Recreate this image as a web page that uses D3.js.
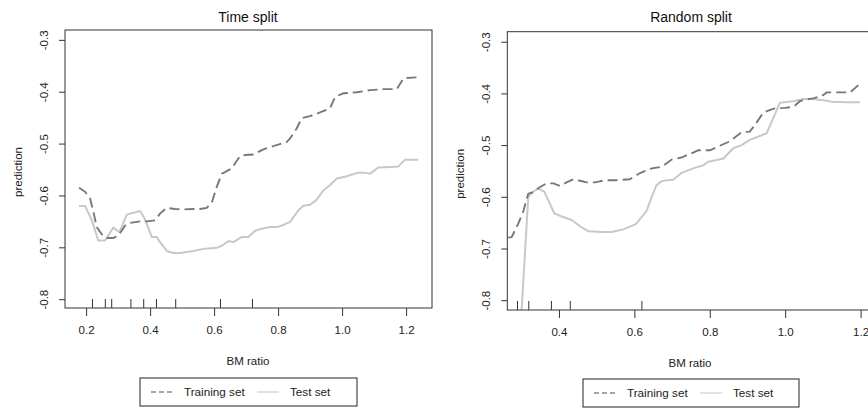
<!DOCTYPE html>
<html>
<head>
<meta charset="utf-8">
<script src="https://cdn.jsdelivr.net/npm/d3@7"></script>
<style>
  body { margin: 0; background: #fff; }
  svg { display: block; font-family: "Liberation Sans", Arial, sans-serif; }
</style>
</head>
<body>
<div id="chart"></div>
<script>
// --- data ---
// Time split panel
const timeTrainX = [0.178, 0.197, 0.2125, 0.223, 0.233, 0.249, 0.265, 0.285, 0.301, 0.322, 0.3375, 0.369, 0.39, 0.416, 0.431, 0.452, 0.478, 0.504, 0.535, 0.556, 0.577, 0.593, 0.608, 0.624, 0.634, 0.655, 0.681, 0.697, 0.723, 0.754, 0.785, 0.827, 0.8375, 0.858, 0.874, 0.9, 0.931, 0.9625, 0.978, 1.004, 1.046, 1.0875, 1.129, 1.171, 1.192, 1.238];
const timeTrainY = [-0.585, -0.593, -0.606, -0.632, -0.661, -0.675, -0.682, -0.682, -0.677, -0.658, -0.653, -0.65, -0.65, -0.648, -0.635, -0.624, -0.626, -0.627, -0.626, -0.626, -0.624, -0.613, -0.584, -0.558, -0.555, -0.548, -0.524, -0.522, -0.521, -0.511, -0.505, -0.497, -0.49, -0.471, -0.451, -0.447, -0.44, -0.432, -0.41, -0.403, -0.401, -0.397, -0.395, -0.395, -0.374, -0.372];
const timeTestX = [0.178, 0.197, 0.218, 0.238, 0.259, 0.285, 0.304, 0.327, 0.369, 0.384, 0.405, 0.421, 0.431, 0.452, 0.473, 0.494, 0.535, 0.567, 0.608, 0.624, 0.645, 0.66, 0.687, 0.707, 0.728, 0.749, 0.775, 0.796, 0.812, 0.8375, 0.863, 0.879, 0.9, 0.919, 0.942, 0.9625, 0.983, 1.009, 1.025, 1.051, 1.072, 1.0875, 1.113, 1.15, 1.176, 1.197, 1.238];
const timeTestY = [-0.6205, -0.6205, -0.648, -0.687, -0.687, -0.662, -0.671, -0.637, -0.63, -0.646, -0.68, -0.68, -0.69, -0.707, -0.711, -0.711, -0.707, -0.703, -0.701, -0.697, -0.688, -0.69, -0.68, -0.68, -0.668, -0.664, -0.661, -0.661, -0.658, -0.651, -0.629, -0.62, -0.618, -0.609, -0.59, -0.58, -0.5675, -0.564, -0.561, -0.556, -0.556, -0.558, -0.546, -0.545, -0.544, -0.531, -0.531];
const timeRug = [0.22, 0.26, 0.28, 0.34, 0.38, 0.42, 0.48, 0.62, 0.72];

// Random split panel
const randTrainX = [0.2655, 0.2745, 0.292, 0.305, 0.3186, 0.332, 0.35, 0.367, 0.385, 0.4027, 0.42, 0.438, 0.456, 0.4735, 0.4955, 0.522, 0.5485, 0.588, 0.615, 0.646, 0.672, 0.699, 0.725, 0.7475, 0.7695, 0.8005, 0.818, 0.849, 0.867, 0.8846, 0.906, 0.92, 0.942, 0.9597, 0.9727, 0.9995, 1.0215, 1.039, 1.057, 1.0746, 1.097, 1.11, 1.1366, 1.172, 1.194];
const randTrainY = [-0.679, -0.678, -0.652, -0.629, -0.594, -0.591, -0.581, -0.574, -0.574, -0.579, -0.572, -0.566, -0.569, -0.572, -0.572, -0.568, -0.568, -0.566, -0.554, -0.545, -0.542, -0.528, -0.524, -0.517, -0.51, -0.51, -0.504, -0.494, -0.485, -0.475, -0.474, -0.461, -0.437, -0.432, -0.429, -0.428, -0.426, -0.415, -0.4115, -0.4096, -0.405, -0.398, -0.398, -0.398, -0.384];
const randTestX = [0.2655, 0.3186, 0.332, 0.345, 0.361, 0.3716, 0.3875, 0.411, 0.434, 0.4557, 0.4777, 0.513, 0.54, 0.5706, 0.604, 0.6326, 0.646, 0.6586, 0.673, 0.6865, 0.703, 0.7255, 0.756, 0.783, 0.796, 0.818, 0.836, 0.862, 0.8846, 0.906, 0.951, 0.986, 1.0215, 1.048, 1.07, 1.101, 1.1233, 1.163, 1.198];
const randTestY = [-1.26, -0.6, -0.59, -0.584, -0.59, -0.6065, -0.632, -0.639, -0.645, -0.657, -0.6665, -0.668, -0.668, -0.663, -0.653, -0.627, -0.6, -0.5775, -0.5697, -0.5678, -0.567, -0.5536, -0.545, -0.539, -0.532, -0.529, -0.526, -0.506, -0.5, -0.49, -0.477, -0.418, -0.415, -0.411, -0.411, -0.413, -0.416, -0.417, -0.417];
const randRug = [0.29, 0.32, 0.38, 0.43, 0.62];

const xTicks = [0.2, 0.4, 0.6, 0.8, 1.0, 1.2];
const yTicks = [-0.3, -0.4, -0.5, -0.6, -0.7, -0.8];
const seriesNames = ["Training set", "Test set"];

const width = 868;
const height = 408;

const trainColor = "#787878";
const testColor = "#c8c8c8";
const axisColor = "#333";

const panels = [
    {
        title: "Time split",
        box: {left: 65, top: 30, right: 432, bottom: 308},
        xDomain: [0.134, 1.281],
        yDomain: [-0.817, -0.281],
        train: timeTrainX.map((x, i) => ({x: x, y: timeTrainY[i]})),
        test: timeTestX.map((x, i) => ({x: x, y: timeTestY[i]})),
        rug: timeRug,
        legend: {left: 140, top: 378, right: 357, bottom: 406}
    },
    {
        title: "Random split",
        box: {left: 507.3, top: 31.7, right: 875.7, bottom: 310},
        xDomain: [0.263, 1.24],
        yDomain: [-0.819, -0.2806],
        train: randTrainX.map((x, i) => ({x: x, y: randTrainY[i]})),
        test: randTestX.map((x, i) => ({x: x, y: randTestY[i]})),
        rug: randRug,
        legend: {left: 583, top: 379, right: 799, bottom: 407}
    }
];

const svg = d3.select("#chart").append("svg")
    .attr("width", width)
    .attr("height", height);

panels.forEach((p, k) => {
    const b = p.box;
    const x = d3.scaleLinear().domain(p.xDomain).range([b.left, b.right]);
    const y = d3.scaleLinear().domain(p.yDomain).range([b.bottom, b.top]);

    const g = svg.append("g").attr("class", "panel");

    // clip to plot region like R does
    const clipId = "clip" + k;
    g.append("clipPath").attr("id", clipId)
        .append("rect")
        .attr("x", b.left).attr("y", b.top)
        .attr("width", b.right - b.left).attr("height", b.bottom - b.top);

    const line = d3.line()
        .x(d => x(d.x))
        .y(d => y(d.y));

    const plot = g.append("g").attr("clip-path", `url(#${clipId})`);

    plot.append("path")
        .attr("d", line(p.test))
        .attr("fill", "none")
        .attr("stroke", testColor)
        .attr("stroke-width", 2)
        .attr("stroke-linejoin", "round");

    plot.append("path")
        .attr("d", line(p.train))
        .attr("fill", "none")
        .attr("stroke", trainColor)
        .attr("stroke-width", 1.9)
        .attr("stroke-dasharray", "10,5");

    // rug (deciles)
    plot.selectAll("line.rug")
        .data(p.rug)
        .enter().append("line")
        .attr("class", "rug")
        .attr("x1", d => x(d)).attr("x2", d => x(d))
        .attr("y1", b.bottom).attr("y2", b.bottom - 9)
        .attr("stroke", axisColor)
        .attr("stroke-width", 1);

    // box
    g.append("rect")
        .attr("x", b.left).attr("y", b.top)
        .attr("width", b.right - b.left).attr("height", b.bottom - b.top)
        .attr("fill", "none")
        .attr("stroke", axisColor)
        .attr("stroke-width", 1);

    // x axis
    const xAxis = d3.axisBottom(x)
        .tickValues(xTicks.filter(v => v >= p.xDomain[0] && v <= p.xDomain[1]))
        .tickSize(8)
        .tickPadding(10)
        .tickFormat(d => d.toFixed(1));

    const gx = g.append("g")
        .attr("transform", `translate(0, ${b.bottom})`)
        .call(xAxis);
    gx.select(".domain").remove();
    gx.selectAll(".tick line").attr("stroke", axisColor);
    gx.selectAll(".tick text")
        .attr("fill", "#222")
        .style("font-size", "11.5px")
        .attr("font-family", null);

    // y axis
    const yAxis = d3.axisLeft(y)
        .tickValues(yTicks)
        .tickSize(6)
        .tickFormat(d => d.toFixed(1));

    const gy = g.append("g")
        .attr("transform", `translate(${b.left}, 0)`)
        .call(yAxis);
    gy.select(".domain").remove();
    gy.selectAll(".tick line").attr("stroke", axisColor);
    gy.selectAll(".tick text")
        .attr("transform", "rotate(-90)")
        .attr("x", 0)
        .attr("y", -21)
        .attr("dy", "0.35em")
        .attr("text-anchor", "middle")
        .attr("fill", "#222")
        .style("font-size", "11.5px")
        .attr("font-family", null);

    // titles
    g.append("text")
        .attr("x", k === 0 ? 248 : 691)
        .attr("y", 22)
        .attr("text-anchor", "middle")
        .style("font-size", "14px")
        .attr("fill", "#111")
        .text(p.title);

    g.append("text")
        .attr("x", k === 0 ? 248 : 690)
        .attr("y", b.bottom + 57)
        .attr("text-anchor", "middle")
        .style("font-size", "11.5px")
        .attr("fill", "#222")
        .text("BM ratio");

    g.append("text")
        .attr("transform", `translate(${b.left - 47}, ${(b.top + b.bottom) / 2 + 3}) rotate(-90)`)
        .attr("text-anchor", "middle")
        .attr("dy", "0.35em")
        .style("font-size", "11.5px")
        .attr("fill", "#222")
        .text("prediction");

    // legend
    const L = p.legend;
    const lg = g.append("g");
    lg.append("rect")
        .attr("x", L.left).attr("y", L.top)
        .attr("width", L.right - L.left).attr("height", L.bottom - L.top)
        .attr("fill", "#fff")
        .attr("stroke", "#222")
        .attr("stroke-width", 1);

    const ly = (L.top + L.bottom) / 2;
    const items = [
        {name: seriesNames[0], color: "#8a8a8a", dash: "5,3", x0: L.left + 11},
        {name: seriesNames[1], color: "#d2d2d2", dash: null, x0: L.left + 117}
    ];
    items.forEach(it => {
        lg.append("line")
            .attr("x1", it.x0).attr("x2", it.x0 + 22)
            .attr("y1", ly).attr("y2", ly)
            .attr("stroke", it.color)
            .attr("stroke-width", 1.3)
            .attr("stroke-dasharray", it.dash);
        lg.append("text")
            .attr("x", it.x0 + 33)
            .attr("y", ly)
            .attr("dy", "0.35em")
            .style("font-size", "11.7px")
            .attr("fill", "#222")
            .text(it.name);
    });
});
</script>
</body>
</html>
